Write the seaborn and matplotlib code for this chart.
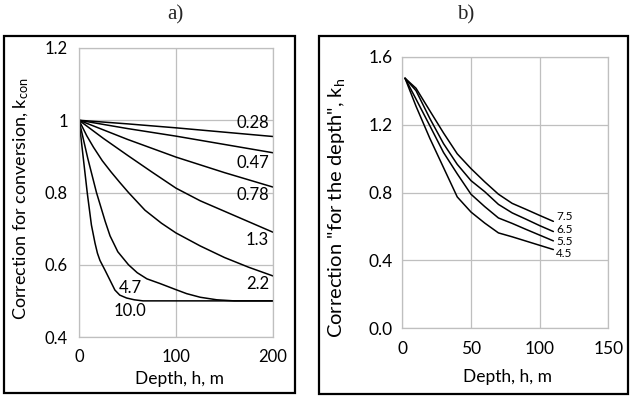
import matplotlib
matplotlib.use("Agg")
import matplotlib.pyplot as plt
import matplotlib.patches as mpatches
import pandas as pd
import seaborn as sns

# ---- panel a) : correction for conversion, k_con vs depth ----
h_028 = [0, 50, 100, 150, 200]
k_028 = [1.0, 0.99, 0.979, 0.967, 0.955]
h_047 = [0, 50, 100, 150, 200]
k_047 = [1.0, 0.977, 0.956, 0.933, 0.910]
h_078 = [0, 50, 100, 150, 200]
k_078 = [1.0, 0.947, 0.898, 0.855, 0.815]
h_13 = [0, 25, 50, 75, 100, 125, 150, 200]
k_13 = [1.0, 0.95, 0.903, 0.857, 0.812, 0.777, 0.748, 0.69]
h_22 = [0, 8, 15, 24, 33, 42, 51, 68, 85, 100, 125, 150, 175, 200]
k_22 = [1.0, 0.957, 0.925, 0.888, 0.857, 0.828, 0.80, 0.751, 0.715, 0.688, 0.652, 0.62, 0.593, 0.569]
h_47 = [0, 9, 18, 27, 32, 40, 51, 60, 70, 83.5, 100, 111, 125, 142, 160, 200]
k_47 = [1.0, 0.895, 0.80, 0.72, 0.68, 0.636, 0.60, 0.578, 0.561, 0.548, 0.531, 0.52, 0.51, 0.503, 0.50, 0.50]
h_100 = [0, 4, 8.6, 12.8, 16.5, 19, 21.6, 27, 32, 37, 42, 49, 57, 66, 200]
k_100 = [1.0, 0.905, 0.797, 0.71, 0.66, 0.632, 0.612, 0.584, 0.557, 0.530, 0.516, 0.508, 0.503, 0.50, 0.50]

labels_a = ["0.28", "0.47", "0.78", "1.3", "2.2", "4.7", "10.0"]
lab_a_h = [196, 196, 196, 196, 196, 53, 53]
lab_a_k = [0.993, 0.882, 0.792, 0.668, 0.546, 0.536, 0.471]

# ---- panel b) : correction "for the depth", k_h vs depth ----
h_b = [2, 10, 20, 30, 40, 50, 60, 70, 80, 90, 100, 110]
kh_45 = [1.473, 1.308, 1.12, 0.947, 0.774, 0.685, 0.62, 0.562, 0.539, 0.514, 0.489, 0.464]
kh_55 = [1.473, 1.35, 1.194, 1.036, 0.91, 0.79, 0.717, 0.65, 0.618, 0.583, 0.549, 0.515]
kh_65 = [1.473, 1.40, 1.237, 1.088, 0.966, 0.87, 0.805, 0.73, 0.68, 0.643, 0.605, 0.57]
kh_75 = [1.473, 1.414, 1.282, 1.151, 1.028, 0.941, 0.863, 0.79, 0.736, 0.701, 0.665, 0.63]

labels_b = ["7.5", "6.5", "5.5", "4.5"]
lab_b_k = [0.656, 0.582, 0.511, 0.44]

sns.set_theme(style="whitegrid")
plt.rcParams["font.family"] = ["Lato", "DejaVu Sans"]
plt.rcParams["mathtext.default"] = "regular"

GRID = "#bfbfbf"

fig = plt.figure(figsize=(6.31, 3.99), dpi=100)
fig.patch.set_facecolor("white")

# panel frames (figure pixels -> fraction)
W, H = 631, 399
for x0, y0, x1, y1 in [(4, 36, 295, 393), (319, 36, 628, 394)]:
    fig.add_artist(mpatches.Rectangle((x0 / W, 1 - y1 / H), (x1 - x0) / W, (y1 - y0) / H,
                                      transform=fig.transFigure, fill=False,
                                      edgecolor="black", linewidth=1.6))

ax1 = fig.add_axes([79 / W, 1 - 337 / H, 194 / W, 289 / H])
ax2 = fig.add_axes([402.3 / W, 1 - 328.3 / H, 206 / W, 271.6 / H])

# --- a) ---
curves_a = [(h_028, k_028), (h_047, k_047), (h_078, k_078), (h_13, k_13),
            (h_22, k_22), (h_47, k_47), (h_100, k_100)]
for hh, kk in curves_a:
    df = pd.DataFrame({"h": hh, "k": kk})
    sns.lineplot(data=df, x="h", y="k", ax=ax1, color="black", linewidth=1.1,
                 estimator=None, sort=False)
for lab, hx, ky in zip(labels_a, lab_a_h, lab_a_k):
    ha = "right" if hx > 100 else "center"
    ax1.text(hx, ky, lab, ha=ha, va="center", fontsize=12, color="black")

ax1.set_xlim(0, 200)
ax1.set_ylim(0.4, 1.2)
ax1.set_xticks([0, 100, 200])
ax1.set_yticks([0.4, 0.6, 0.8, 1.0, 1.2])
ax1.set_yticklabels(["0.4", "0.6", "0.8", "1", "1.2"])
ax1.set_xlabel("Depth, h, m", fontsize=12.5)
ax1.set_ylabel(r"Correction for conversion, k$_{\mathregular{con}}$", fontsize=13)
ax1.xaxis.set_label_coords(0.52, -0.118)
ax1.yaxis.set_label_coords(-0.247, 0.478)
ax1.tick_params(axis="x", length=0, pad=9, labelsize=12)
ax1.tick_params(axis="y", length=0, pad=8, labelsize=12)

# --- b) ---
curves_b = [kh_75, kh_65, kh_55, kh_45]
for kk in curves_b:
    df = pd.DataFrame({"h": h_b, "k": kk})
    sns.lineplot(data=df, x="h", y="k", ax=ax2, color="black", linewidth=1.1,
                 estimator=None, sort=False)
for lab, ky in zip(labels_b, lab_b_k):
    ax2.text(112, ky, lab, ha="left", va="center", fontsize=8.5, color="black")

ax2.set_xlim(0, 150)
ax2.set_ylim(0.0, 1.6)
ax2.set_xticks([0, 50, 100, 150])
ax2.set_yticks([0.0, 0.4, 0.8, 1.2, 1.6])
ax2.set_yticklabels(["0.0", "0.4", "0.8", "1.2", "1.6"])
ax2.set_xlabel("Depth, h, m", fontsize=12.5)
ax2.set_ylabel('Correction "for the depth", k$_{h}$', fontsize=14.5)
ax2.xaxis.set_label_coords(0.51, -0.15)
ax2.yaxis.set_label_coords(-0.268, 0.445)
ax2.tick_params(axis="x", length=0, pad=9, labelsize=12.5)
ax2.tick_params(axis="y", length=0, pad=7, labelsize=12.5)

for ax in (ax1, ax2):
    ax.set_facecolor("white")
    ax.grid(True, color=GRID, linewidth=0.9)
    for sp in ax.spines.values():
        sp.set_color(GRID)
        sp.set_linewidth(0.9)
    ax.tick_params(colors="black")
    ax.xaxis.label.set_color("black")
    ax.yaxis.label.set_color("black")

fig.text(175 / W, 1 - 15 / H, "a)", ha="center", va="center",
         fontsize=15, family=["Liberation Serif", "DejaVu Serif"])
fig.text(466 / W, 1 - 15 / H, "b)", ha="center", va="center",
         fontsize=15, family=["Liberation Serif", "DejaVu Serif"])

fig.savefig("out.png", dpi=100, facecolor="white")
